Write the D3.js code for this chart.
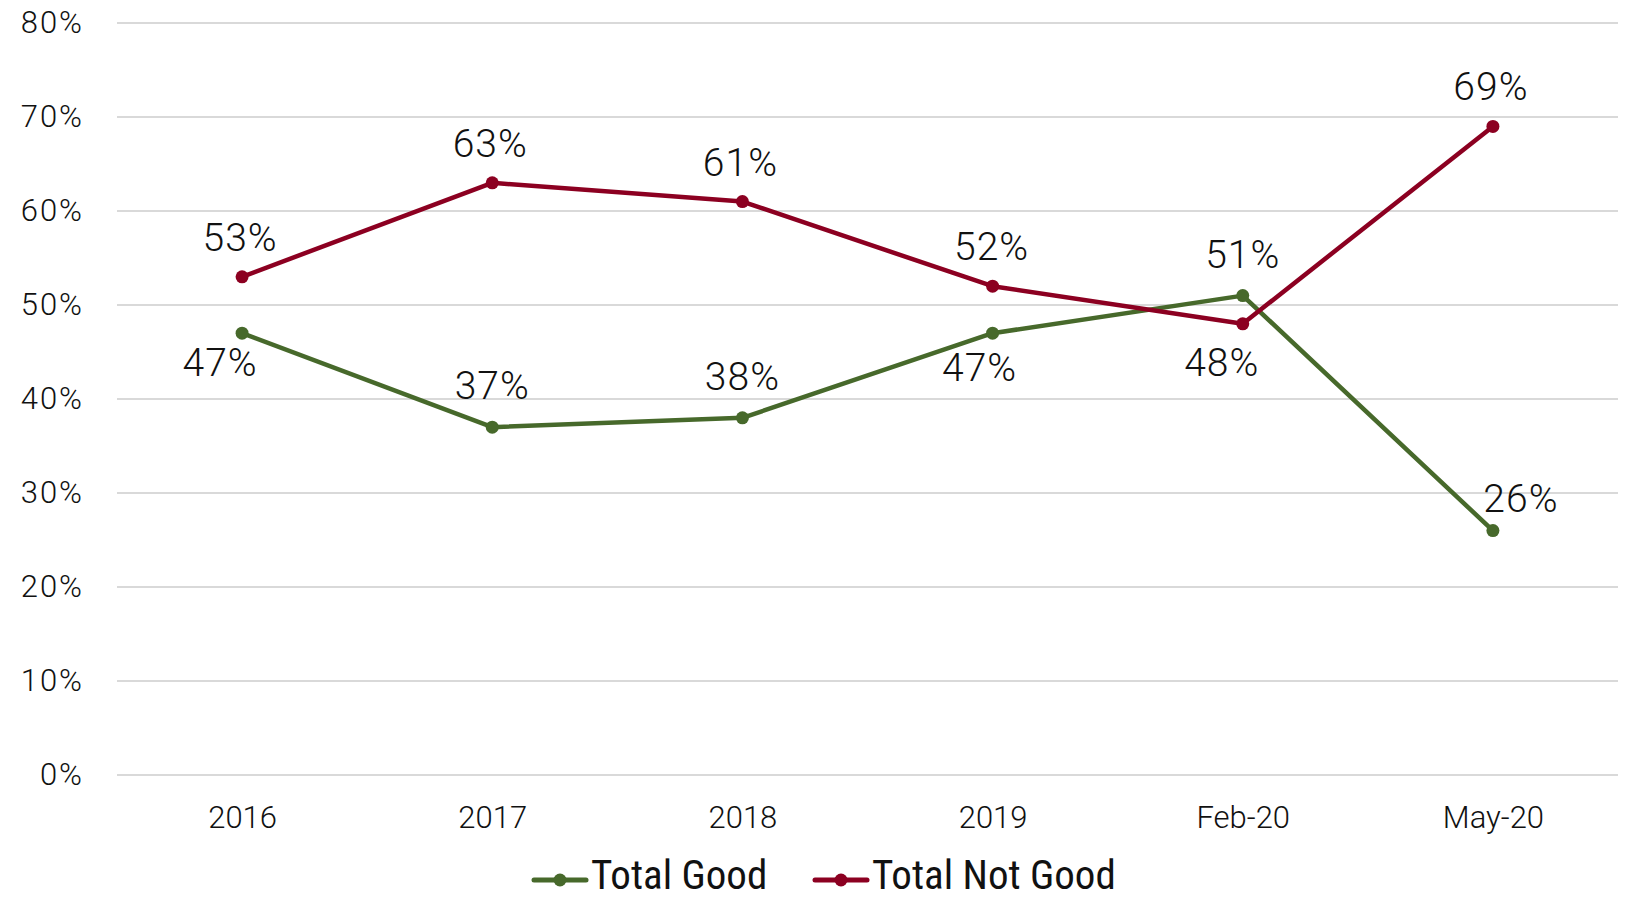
<!DOCTYPE html>
<meta charset="utf-8">
<script src="https://d3js.org/d3.v7.min.js"></script>
<style type="text/css">
    body { margin: 0; background: #fff; }
    .axis path, .axis line { display: none; }
    .axis text { font-family: Roboto, sans-serif; font-weight: 300; font-size: 31px; fill: #111; }
    .y.axis text { letter-spacing: 2px; }
    .grid line { stroke: #d9d9d9; stroke-width: 2; }
    .lbl { font-family: Roboto, sans-serif; font-weight: 300; font-size: 39px; letter-spacing: 1px; fill: #111; }
    .legend text { font-family: "Liberation Sans Narrow", "Roboto Condensed", Roboto, sans-serif; font-size: 41px; fill: #111; }
</style>
<body></body>
<script>

// data
var periods = ["2016", "2017", "2018", "2019", "Feb-20", "May-20"];
var totalGood = [47, 37, 38, 47, 51, 26];
var totalNotGood = [53, 63, 61, 52, 48, 69];
var yTicks = [0, 10, 20, 30, 40, 50, 60, 70, 80];

// label placement (dx, dy relative to point)
var goodLabelPos = [[-22, 43], [0, -28], [0, -28], [-13, 48], [0, -28], [28, -19]];
var notGoodLabelPos = [[-2, -26], [-2, -26], [-2, -26], [-1, -26], [-21, 52], [-2, -26]];

var seriesList = [
    {name: "Total Good", values: totalGood, color: "#47692b", pos: goodLabelPos},
    {name: "Total Not Good", values: totalNotGood, color: "#8c0021", pos: notGoodLabelPos}
];

var margin = {top: 23, right: 9, bottom: 124, left: 117};
var width = 1627 - margin.left - margin.right;
var height = 899 - margin.top - margin.bottom;

var svg = d3.select("body").append("svg")
    .attr("width", 1627)
    .attr("height", 899)
    .append("g")
    .attr("transform", "translate(" + margin.left + "," + margin.top + ")");

var xScale = d3.scalePoint()
    .domain(periods)
    .range([0, width])
    .padding(0.5);

var yScale = d3.scaleLinear()
    .domain([0, 80])
    .range([height, 0]);

// gridlines
svg.append("g")
    .attr("class", "grid")
    .selectAll("line")
    .data(yTicks)
    .enter()
    .append("line")
    .attr("x1", 0)
    .attr("x2", width)
    .attr("y1", function(d) { return yScale(d); })
    .attr("y2", function(d) { return yScale(d); });

var yAxis = d3.axisLeft(yScale)
    .tickValues(yTicks)
    .tickSize(0)
    .tickPadding(33)
    .tickFormat(function(d) { return d + "%"; });

svg.append("g")
    .attr("class", "y axis")
    .call(yAxis);

var xAxis = d3.axisBottom(xScale).tickSize(0).tickPadding(31);

svg.append("g")
    .attr("class", "x axis")
    .attr("transform", "translate(0," + height + ")")
    .call(xAxis);

var line = d3.line()
    .x(function(d, i) { return xScale(periods[i]); })
    .y(function(d) { return yScale(d); });

seriesList.forEach(function(s) {
    svg.append("path")
        .datum(s.values)
        .attr("fill", "none")
        .attr("stroke", s.color)
        .attr("stroke-width", 4.5)
        .attr("stroke-linejoin", "round")
        .attr("d", line);

    svg.selectAll(null)
        .data(s.values)
        .enter()
        .append("circle")
        .attr("cx", function(d, i) { return xScale(periods[i]); })
        .attr("cy", function(d) { return yScale(d); })
        .attr("r", 6.5)
        .style("fill", s.color);
});

seriesList.forEach(function(s) {
    svg.selectAll(null)
        .data(s.values)
        .enter()
        .append("text")
        .attr("class", "lbl")
        .attr("text-anchor", "middle")
        .attr("x", function(d, i) { return xScale(periods[i]) + s.pos[i][0]; })
        .attr("y", function(d, i) { return yScale(d) + s.pos[i][1]; })
        .text(function(d) { return d + "%"; });
});

// legend
var legendX = [534 - margin.left, 815 - margin.left];
var legend = svg.append("g")
    .attr("class", "legend")
    .attr("transform", "translate(0," + (880 - margin.top) + ")");

seriesList.forEach(function(s, i) {
    var g = legend.append("g").attr("transform", "translate(" + legendX[i] + ",0)");
    g.append("line")
        .attr("x1", 0).attr("x2", 52)
        .attr("stroke", s.color)
        .attr("stroke-width", 5)
        .attr("stroke-linecap", "round");
    g.append("circle")
        .attr("cx", 26)
        .attr("r", 6.5)
        .style("fill", s.color);
    g.append("text")
        .attr("x", 57)
        .attr("y", 9)
        .text(s.name);
});

</script>
